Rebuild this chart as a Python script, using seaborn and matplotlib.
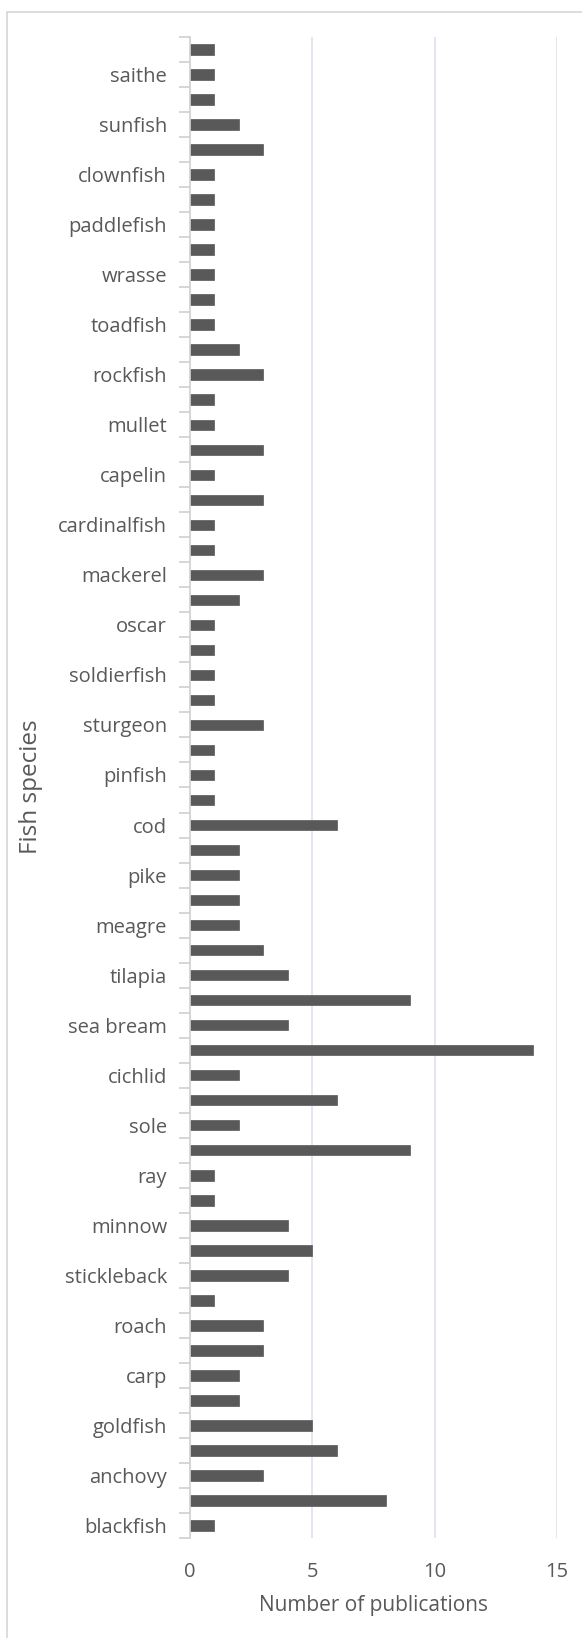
import numpy as np
import pandas as pd
import matplotlib
matplotlib.use("Agg")
import matplotlib.pyplot as plt
from matplotlib.patches import Rectangle
import seaborn as sns

# Species rows, listed top to bottom; only every other row carries a visible label
species_labels = [
    "", "saithe", "", "sunfish", "", "clownfish", "", "paddlefish", "", "wrasse",
    "", "toadfish", "", "rockfish", "", "mullet", "", "capelin", "", "cardinalfish",
    "", "mackerel", "", "oscar", "", "soldierfish", "", "sturgeon", "", "pinfish",
    "", "cod", "", "pike", "", "meagre", "", "tilapia", "", "sea bream",
    "", "cichlid", "", "sole", "", "ray", "", "minnow", "", "stickleback",
    "", "roach", "", "carp", "", "goldfish", "", "anchovy", "", "blackfish",
]
publications = [
    1, 1, 1, 2, 3, 1, 1, 1, 1, 1,
    1, 1, 2, 3, 1, 1, 3, 1, 3, 1,
    1, 3, 2, 1, 1, 1, 1, 3, 1, 1,
    1, 6, 2, 2, 2, 2, 3, 4, 9, 4,
    14, 2, 6, 2, 9, 1, 1, 4, 5, 4,
    1, 3, 3, 2, 2, 5, 6, 3, 8, 1,
]
x_ticks = [0, 5, 10, 15]

df = pd.DataFrame({"row": np.arange(len(publications)), "publications": publications})

TEXT = "#595959"
BAR = "#595959"
GRID = "#dde3ec"
AXIS = "#d0d0d0"
FONT = ["Open Sans", "DejaVu Sans"]

sns.set_theme(style="white")
plt.rcParams["font.family"] = FONT

W, H = 582, 1638
fig = plt.figure(figsize=(W / 100, H / 100), dpi=100)
fig.patch.set_facecolor("white")

# chart-area frame
fig.patches.append(Rectangle((7 / W, -0.05), 1.2, 1 - 12 / H + 0.05,
                             transform=fig.transFigure, fill=False,
                             edgecolor="#d9d9d9", linewidth=1.3, zorder=0))

left, right = 190 / W, 557 / W
top, bottom = 1 - 37 / H, 1 - 1538 / H
ax = fig.add_axes([left, bottom, right - left, top - bottom])

sns.barplot(data=df, x="publications", y="row", orient="h", color=BAR,
            width=0.42, saturation=1, edgecolor=BAR, linewidth=0.5, ax=ax)

n = len(publications)
ax.set_xlim(0, 15)
ax.set_ylim(n - 0.5, -0.5)

ax.set_xticks(x_ticks)
ax.set_xticklabels([str(t) for t in x_ticks])
ax.set_yticks(np.arange(n))
ax.set_yticklabels(species_labels)
ax.set_yticks(np.arange(n + 1) - 0.5, minor=True)

ax.tick_params(axis="x", length=0, pad=17, labelsize=14.5, labelcolor=TEXT)
ax.tick_params(axis="y", which="major", length=0, pad=16.5, labelsize=14.5, labelcolor=TEXT)
ax.tick_params(axis="y", which="minor", length=8, width=1.2, color=AXIS, left=True)

for v in x_ticks[1:]:
    ax.axvline(v, color=GRID, linewidth=1.2, zorder=0)

for side in ["top", "right", "bottom"]:
    ax.spines[side].set_visible(False)
ax.spines["left"].set_color(AXIS)
ax.spines["left"].set_linewidth(1.2)

ax.set_xlabel("")
ax.set_ylabel("")
fig.text((left + right) / 2, 1 - 1606 / H, "Number of publications",
         ha="center", va="center", fontsize=15, color=TEXT)
fig.text(31 / W, 1 - 787 / H, "Fish species", rotation=90,
         ha="center", va="center", fontsize=17.5, color=TEXT)

fig.savefig("out.png", dpi=100)
